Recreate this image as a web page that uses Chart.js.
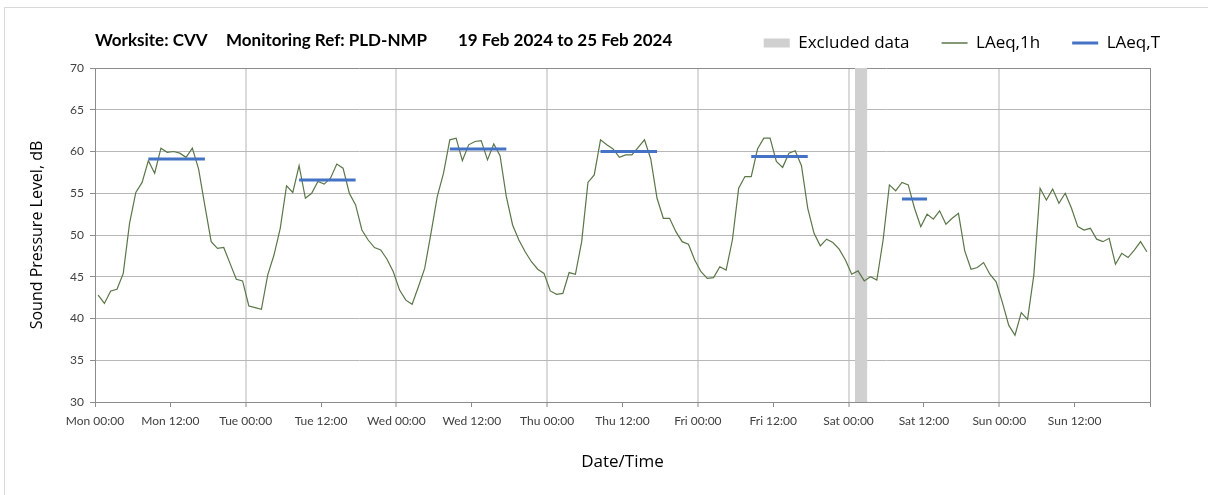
<!DOCTYPE html>
<html>
<head>
<meta charset="utf-8">
<script src="https://cdn.jsdelivr.net/npm/chart.js@4.4.1/dist/chart.umd.min.js"></script>
<style>
  html, body { margin: 0; padding: 0; background: #fff; }
  #wrap { position: relative; width: 1208px; height: 495px; overflow: hidden; }
  #frame { position: absolute; left: 4px; top: 7px; width: 1230px; height: 520px; border: 1px solid #d9d9d9; }
  .title { position: absolute; top: 30px; font: bold 17px Lato, sans-serif; line-height: 20px; white-space: pre; color: #000; }
  canvas { position: absolute; left: 0; top: 0; }
</style>
</head>
<body>
<div id="wrap">
  <div id="frame"></div>
  <canvas id="noiseChart" width="1208" height="495"></canvas>
  <div class="title" style="left:95px">Worksite: CVV</div>
  <div class="title" style="left:226px">Monitoring Ref: PLD-NMP</div>
  <div class="title" style="left:458px">19 Feb 2024 to 25 Feb 2024</div>
</div>
<script>
/* ───────────────── DATA ───────────────── */
// hourly LAeq,1h (dB), one array per day, values for 00:00-01:00 ... 23:00-24:00
const mon = [42.8, 41.8, 43.3, 43.5, 45.4, 51.4, 55.1, 56.3, 58.9, 57.4, 60.4, 59.9, 60.0, 59.8, 59.3, 60.4, 57.9, 53.5, 49.2, 48.4, 48.5, 46.6, 44.7, 44.5];
const tue = [41.5, 41.3, 41.1, 45.2, 47.6, 50.8, 55.9, 55.1, 58.3, 54.4, 55.0, 56.4, 56.1, 56.8, 58.5, 58.0, 55.0, 53.6, 50.6, 49.4, 48.5, 48.2, 47.1, 45.6];
const wed = [43.4, 42.2, 41.7, 43.8, 46.0, 50.2, 54.6, 57.4, 61.4, 61.6, 58.9, 60.8, 61.2, 61.3, 59.0, 60.9, 59.5, 54.6, 51.2, 49.4, 48.0, 46.8, 45.9, 45.4];
const thu = [43.3, 42.9, 43.0, 45.5, 45.3, 49.2, 56.3, 57.2, 61.4, 60.8, 60.3, 59.3, 59.6, 59.6, 60.5, 61.4, 59.1, 54.4, 52.0, 52.0, 50.4, 49.2, 48.9, 47.0];
const fri = [45.6, 44.8, 44.9, 46.2, 45.8, 49.4, 55.6, 57.0, 57.0, 60.3, 61.6, 61.6, 58.8, 58.1, 59.8, 60.1, 58.3, 53.2, 50.2, 48.7, 49.5, 49.1, 48.3, 47.0];
const sat = [45.3, 45.7, 44.5, 45.0, 44.6, 49.4, 56.0, 55.3, 56.3, 56.0, 53.2, 51.0, 52.5, 51.9, 52.9, 51.3, 52.0, 52.6, 48.1, 45.9, 46.1, 46.7, 45.3, 44.4];
const sun = [41.9, 39.2, 38.0, 40.7, 39.9, 45.2, 55.6, 54.2, 55.5, 53.8, 55.0, 53.2, 51.0, 50.6, 50.8, 49.5, 49.2, 49.6, 46.5, 47.8, 47.3, 48.2, 49.2, 48.0];

// LAeq,T working periods (hours from Mon 00:00)
const laeqTStart = [8.5, 32.5, 56.5, 80.5, 104.5, 128.5];
const laeqTEnd   = [17.5, 41.5, 65.5, 89.5, 113.5, 132.5];
const laeqTLevel = [59.1, 56.6, 60.3, 60.0, 59.4, 54.3];

// excluded period (hours from Mon 00:00)
const excludedFrom = [121];
const excludedTo   = [123];

const xTickLabels = ["Mon 00:00", "Mon 12:00", "Tue 00:00", "Tue 12:00", "Wed 00:00", "Wed 12:00",
  "Thu 00:00", "Thu 12:00", "Fri 00:00", "Fri 12:00", "Sat 00:00", "Sat 12:00", "Sun 00:00", "Sun 12:00", ""];
const yTicks = [30, 35, 40, 45, 50, 55, 60, 65, 70];

/* ───────────────── BUILD SERIES ───────────────── */
const yMin = yTicks[0], yMax = yTicks[yTicks.length - 1];
const week = [mon, tue, wed, thu, fri, sat, sun];
const laeq1hPoints = week.flatMap((vals, d) => vals.map((v, h) => ({ x: d * 24 + h + 0.5, y: v })));
const laeqTPoints = laeqTLevel.flatMap((v, i) => [
  { x: laeqTStart[i], y: v }, { x: laeqTEnd[i], y: v }, { x: laeqTEnd[i], y: null }
]);
const excludedPoints = excludedFrom.flatMap((f, i) => [
  { x: f, y: yMax }, { x: excludedTo[i], y: yMax }, { x: excludedTo[i], y: null }
]);
const legendStyles = ["rect", "line", "line"];
const legendWidths = [0, 1.3, 3];

// legend sits on the title row: fixed height, nudged to the right of the plot edge
const legendBox = {
  id: "legendBox",
  beforeInit(chart) {
    const fit = chart.legend.fit;
    chart.legend.fit = function () { fit.call(this); this.height = 65.5; };
  },
  afterLayout(chart) {
    chart.legend.left += 42;
    chart.legend.right += 42;
  }
};

/* ───────────────── CHART ───────────────── */
new Chart(document.getElementById("noiseChart"), {
  type: "line",
  plugins: [legendBox],
  data: {
    datasets: [
      {
        label: "Excluded data",
        data: excludedPoints,
        backgroundColor: "#d0d0d0",
        borderColor: "#d0d0d0",
        borderWidth: 0,
        pointRadius: 0,
        fill: { value: yMin },
        order: 3
      },
      {
        label: "LAeq,1h",
        data: laeq1hPoints,
        borderColor: "#5a7648",
        borderWidth: 1.2,
        pointRadius: 0,
        tension: 0,
        fill: false,
        order: 2
      },
      {
        label: "LAeq,T",
        data: laeqTPoints,
        borderColor: "#4472c4",
        borderWidth: 3,
        pointRadius: 0,
        spanGaps: false,
        fill: false,
        order: 1
      }
    ]
  },
  options: {
    responsive: false,
    animation: false,
    devicePixelRatio: 1,
    layout: { padding: { top: 2.5, right: 58, left: 0, bottom: 0 } },
    plugins: {
      tooltip: { enabled: false },
      title: { display: false },
      legend: {
        position: "top",
        align: "end",
        labels: {
          usePointStyle: true,
          pointStyleWidth: 26,
          boxHeight: 9,
          padding: 32,
          color: "#262626",
          font: { family: "Open Sans", size: 17 },
          generateLabels: chart => chart.data.datasets.map((ds, i) => ({
            text: ds.label,
            datasetIndex: i,
            pointStyle: legendStyles[i],
            fillStyle: ds.backgroundColor || ds.borderColor,
            strokeStyle: ds.borderColor,
            lineWidth: legendWidths[i],
            hidden: false
          }))
        }
      }
    },
    scales: {
      x: {
        type: "linear",
        min: 0,
        max: 168,
        ticks: {
          stepSize: 12,
          autoSkip: false,
          maxRotation: 0,
          padding: 7,
          color: "#404040",
          font: { family: "Lato", size: 12 },
          callback: (value, index) => xTickLabels[index] ?? ""
        },
        grid: {
          color: c => c.tick.value === 168 ? "#8c8c8c" : (c.tick.value % 24 === 0 ? "#dadada" : "rgba(0,0,0,0)"),
          lineWidth: c => (c.tick.value % 24 === 0 && c.tick.value !== 168 && c.tick.value !== 0) ? 2 : 1,
          tickColor: "#8c8c8c",
          tickWidth: 1,
          tickLength: 5
        },
        border: { color: "#8c8c8c" },
        title: {
          display: true,
          text: "Date/Time",
          color: "#000",
          font: { family: "Open Sans", size: 17 },
          padding: { top: 0, bottom: 23 }
        },
        afterFit: s => { s.height = 93; }
      },
      y: {
        min: yMin,
        max: yMax,
        ticks: {
          stepSize: yTicks[1] - yTicks[0],
          padding: 6,
          color: "#404040",
          font: { family: "Lato", size: 12 }
        },
        grid: {
          color: c => c.tick.value === yMax ? "#8c8c8c" : "#b7b7b7",
          tickColor: "#8c8c8c",
          tickLength: 5
        },
        border: { color: "#8c8c8c" },
        title: {
          display: true,
          text: "Sound Pressure Level, dB",
          color: "#000",
          font: { family: "Open Sans", size: 16 },
          padding: { top: 28, bottom: 0 }
        },
        afterFit: s => { s.width = 95; }
      }
    }
  }
});
</script>
</body>
</html>
